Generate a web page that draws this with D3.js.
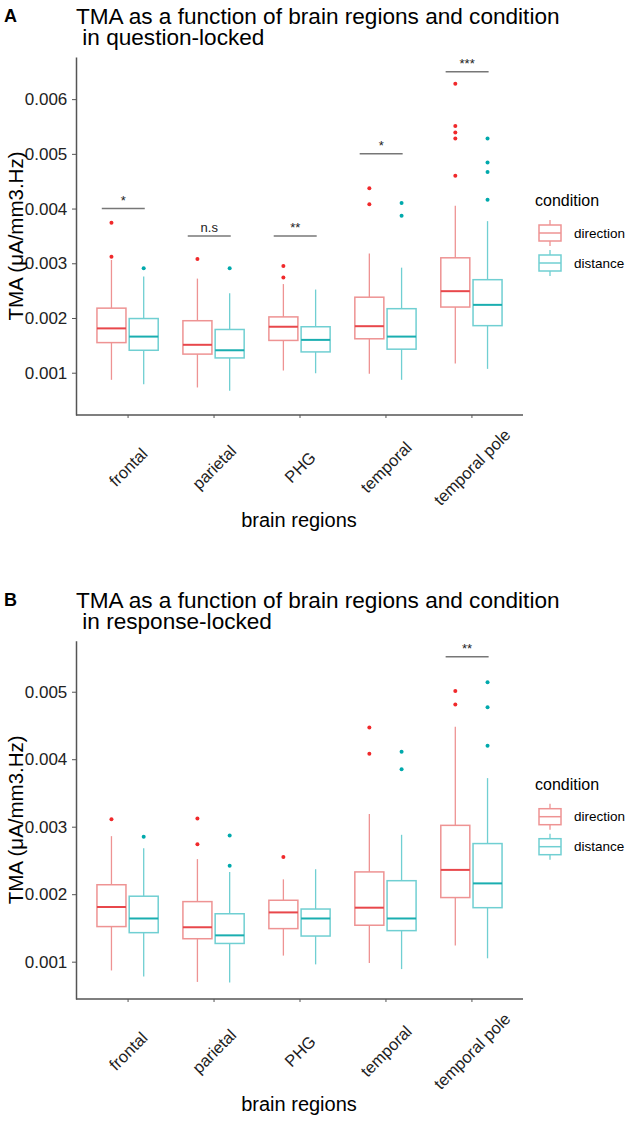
<!DOCTYPE html>
<html>
<head>
<meta charset="utf-8">
<script src="https://cdn.jsdelivr.net/npm/d3@7"></script>
<style>
  body { margin: 0; background: #fff; }
  svg { font-family: "Liberation Sans", Arial, sans-serif; }
</style>
</head>
<body>
<script>
// categories
var regions = ["frontal", "parietal", "PHG", "temporal", "temporal pole"];
var conditions = ["direction", "distance"];

// box stats per region: [lower whisker, Q1, median, Q3, upper whisker]
var questionDirection = [
  [0.00087, 0.00155, 0.00181, 0.00218, 0.00306],
  [0.00073, 0.00134, 0.00151, 0.00195, 0.00272],
  [0.00104, 0.00159, 0.00184, 0.00202, 0.00262],
  [0.00098, 0.00162, 0.00185, 0.00238, 0.00318],
  [0.00117, 0.00220, 0.00249, 0.00310, 0.00405]
];
var questionDistance = [
  [0.00079, 0.00141, 0.00166, 0.00199, 0.00276],
  [0.00067, 0.00127, 0.00141, 0.00179, 0.00245],
  [0.00099, 0.00138, 0.00160, 0.00184, 0.00252],
  [0.00087, 0.00143, 0.00166, 0.00217, 0.00292],
  [0.00107, 0.00186, 0.00224, 0.00270, 0.00377]
];
var questionDirectionOut = [
  [0.00374, 0.00312], [0.00308], [0.00295, 0.00274], [0.00437, 0.00408],
  [0.00628, 0.00551, 0.00539, 0.00528, 0.00460]
];
var questionDistanceOut = [
  [0.00291], [0.00291], [], [0.00410, 0.00387],
  [0.00528, 0.00484, 0.00467, 0.00416]
];
var questionSig = ["*", "n.s", "**", "*", "***"];
var questionSigY = [0.0040, 0.0035, 0.0035, 0.0050, 0.0065];

var responseDirection = [
  [0.00087, 0.00152, 0.00181, 0.00214, 0.00286],
  [0.00070, 0.00134, 0.00151, 0.00189, 0.00252],
  [0.00109, 0.00149, 0.00173, 0.00191, 0.00222],
  [0.00098, 0.00154, 0.00180, 0.00233, 0.00319],
  [0.00124, 0.00195, 0.00236, 0.00302, 0.00448]
];
var responseDistance = [
  [0.00078, 0.00143, 0.00164, 0.00197, 0.00268],
  [0.00069, 0.00127, 0.00139, 0.00171, 0.00233],
  [0.00096, 0.00138, 0.00164, 0.00178, 0.00237],
  [0.00089, 0.00146, 0.00164, 0.00220, 0.00288],
  [0.00105, 0.00180, 0.00216, 0.00275, 0.00372]
];
var responseDirectionOut = [
  [0.00311], [0.00312, 0.00274], [0.00255], [0.00447, 0.00408], [0.00501, 0.00481]
];
var responseDistanceOut = [
  [0.00285], [0.00287, 0.00242], [], [0.00411, 0.00385], [0.00514, 0.00477, 0.00420]
];
var responseSig = [null, null, null, null, "**"];
var responseSigY = [null, null, null, null, 0.00552];

var questionTicks = [0.001, 0.002, 0.003, 0.004, 0.005, 0.006];
var responseTicks = [0.001, 0.002, 0.003, 0.004, 0.005];

var boxColor = {direction: "#EE9393", distance: "#70CFD2"};
var medColor = {direction: "#E8474B", distance: "#1AAEB0"};
var outColor = {direction: "#F0292B", distance: "#00A9AC"};

var W = 629, H = 1121;
var svg = d3.select("body").append("svg").attr("width", W).attr("height", H);

function panel(opt) {
  var g = svg.append("g");
  var x = d3.scalePoint().domain(regions).range([76, 523]).padding(0.6);
  var y = d3.scaleLinear().domain(opt.domain).range([opt.bottom, opt.top]);
  var step = x.step();
  var bw = step * 0.3375;
  var off = {direction: -step * 0.1875, distance: step * 0.1875};

  // panel letter and title
  g.append("text").attr("x", 4).attr("y", opt.top - 35).attr("font-size", 18)
    .attr("font-weight", "bold").text(opt.letter);
  g.append("text").attr("x", 76).attr("y", opt.top - 33).attr("font-size", 22.6)
    .text("TMA as a function of brain regions and condition");
  g.append("text").attr("x", 76).attr("y", opt.top - 12).attr("font-size", 22.6)
    .style("white-space", "pre").text(" " + opt.sub);

  var series = [
    {cond: "direction", stats: opt.dir, outs: opt.dirOut},
    {cond: "distance", stats: opt.dist, outs: opt.distOut}
  ];
  series.forEach(function(s) {
    var grp = g.append("g").selectAll("g").data(s.stats).join("g");
    var cx = function(d, i) { return x(regions[i]) + off[s.cond]; };
    grp.append("line")
      .attr("x1", cx).attr("x2", cx)
      .attr("y1", function(d) { return y(d[0]); }).attr("y2", function(d) { return y(d[1]); })
      .attr("stroke", boxColor[s.cond]).attr("stroke-width", 1.3);
    grp.append("line")
      .attr("x1", cx).attr("x2", cx)
      .attr("y1", function(d) { return y(d[3]); }).attr("y2", function(d) { return y(d[4]); })
      .attr("stroke", boxColor[s.cond]).attr("stroke-width", 1.3);
    grp.append("rect")
      .attr("x", function(d, i) { return cx(d, i) - bw / 2; })
      .attr("width", bw)
      .attr("y", function(d) { return y(d[3]); })
      .attr("height", function(d) { return y(d[1]) - y(d[3]); })
      .attr("fill", "none").attr("stroke", boxColor[s.cond]).attr("stroke-width", 1.5);
    grp.append("line")
      .attr("x1", function(d, i) { return cx(d, i) - bw / 2; })
      .attr("x2", function(d, i) { return cx(d, i) + bw / 2; })
      .attr("y1", function(d) { return y(d[2]); }).attr("y2", function(d) { return y(d[2]); })
      .attr("stroke", medColor[s.cond]).attr("stroke-width", 2);
    grp.each(function(d, i) {
      d3.select(this).selectAll("circle").data(s.outs[i]).join("circle")
        .attr("cx", cx(d, i)).attr("cy", function(v) { return y(v); })
        .attr("r", 2).attr("fill", outColor[s.cond]);
    });
  });

  // significance bars
  opt.sig.forEach(function(lab, i) {
    if (!lab) return;
    var c = x(regions[i]);
    var yy = y(opt.sigY[i]);
    g.append("line").attr("x1", c - step * 0.3).attr("x2", c + step * 0.2)
      .attr("y1", yy).attr("y2", yy).attr("stroke", "#777").attr("stroke-width", 1.5);
    g.append("text").attr("x", c - step * 0.05).attr("y", yy - (lab === "n.s" ? 3.5 : 4))
      .attr("text-anchor", "middle").attr("font-size", 13).attr("fill", "#222").text(lab);
  });

  // axes
  var ya = g.append("g").attr("transform", "translate(76,0)")
    .call(d3.axisLeft(y).tickValues(opt.ticks).tickFormat(d3.format(".3f")).tickSize(4).tickSizeOuter(0));
  ya.select(".domain").attr("stroke", "#555").attr("stroke-width", 1.5);
  ya.selectAll(".tick line").attr("stroke", "#555");
  ya.selectAll(".tick text").attr("font-size", 17).attr("fill", "#222")
    .attr("font-family", "Liberation Sans, Arial, sans-serif").attr("dx", "-0.1em");

  var xa = g.append("g").attr("transform", "translate(0," + opt.bottom + ")")
    .call(d3.axisBottom(x).tickSize(3).tickSizeOuter(0));
  xa.select(".domain").attr("stroke", "#555").attr("stroke-width", 1.5)
    .attr("d", "M76,0H523");
  xa.selectAll(".tick line").attr("stroke", "#555");
  xa.selectAll(".tick text").remove();
  xa.selectAll(".tick").append("text")
    .attr("transform", "translate(0,52) rotate(-45)")
    .attr("text-anchor", "middle").attr("dominant-baseline", "central")
    .attr("font-size", 16.5).attr("fill", "#222")
    .attr("font-family", "Liberation Sans, Arial, sans-serif")
    .text(function(d) { return d; });

  g.append("text").attr("x", 299).attr("y", opt.bottom + 112)
    .attr("text-anchor", "middle").attr("font-size", 20).text("brain regions");
  var mid = (opt.top + opt.bottom) / 2;
  g.append("text").attr("transform", "translate(23," + mid + ") rotate(-90)")
    .attr("text-anchor", "middle").attr("font-size", 20.5).text("TMA (\u03bcA/mm3.Hz)");

  // legend
  var lg = g.append("g").attr("transform", "translate(535," + opt.top + ")");
  lg.append("text").attr("x", 0).attr("y", 149).attr("font-size", 16).text("condition");
  conditions.forEach(function(c, i) {
    var cy = 176 + i * 30;
    var k = lg.append("g");
    k.append("line").attr("x1", 15).attr("x2", 15).attr("y1", cy - 13).attr("y2", cy + 13)
      .attr("stroke", boxColor[c]).attr("stroke-width", 1.3);
    k.append("rect").attr("x", 4).attr("y", cy - 8).attr("width", 22).attr("height", 16)
      .attr("fill", "#fff").attr("stroke", boxColor[c]).attr("stroke-width", 1.5);
    k.append("line").attr("x1", 4).attr("x2", 26).attr("y1", cy).attr("y2", cy)
      .attr("stroke", boxColor[c]).attr("stroke-width", 1.5);
    lg.append("text").attr("x", 39).attr("y", cy).attr("dominant-baseline", "central")
      .attr("font-size", 13.5).text(c);
  });
}

panel({
  letter: "A", sub: "in question-locked", top: 57, bottom: 415,
  domain: [0.000227, 0.00677], ticks: questionTicks,
  dir: questionDirection, dist: questionDistance,
  dirOut: questionDirectionOut, distOut: questionDistanceOut,
  sig: questionSig, sigY: questionSigY
});
panel({
  letter: "B", sub: "in response-locked", top: 640.7, bottom: 999,
  domain: [0.000447, 0.005756], ticks: responseTicks,
  dir: responseDirection, dist: responseDistance,
  dirOut: responseDirectionOut, distOut: responseDistanceOut,
  sig: responseSig, sigY: responseSigY
});
</script>
</body>
</html>
